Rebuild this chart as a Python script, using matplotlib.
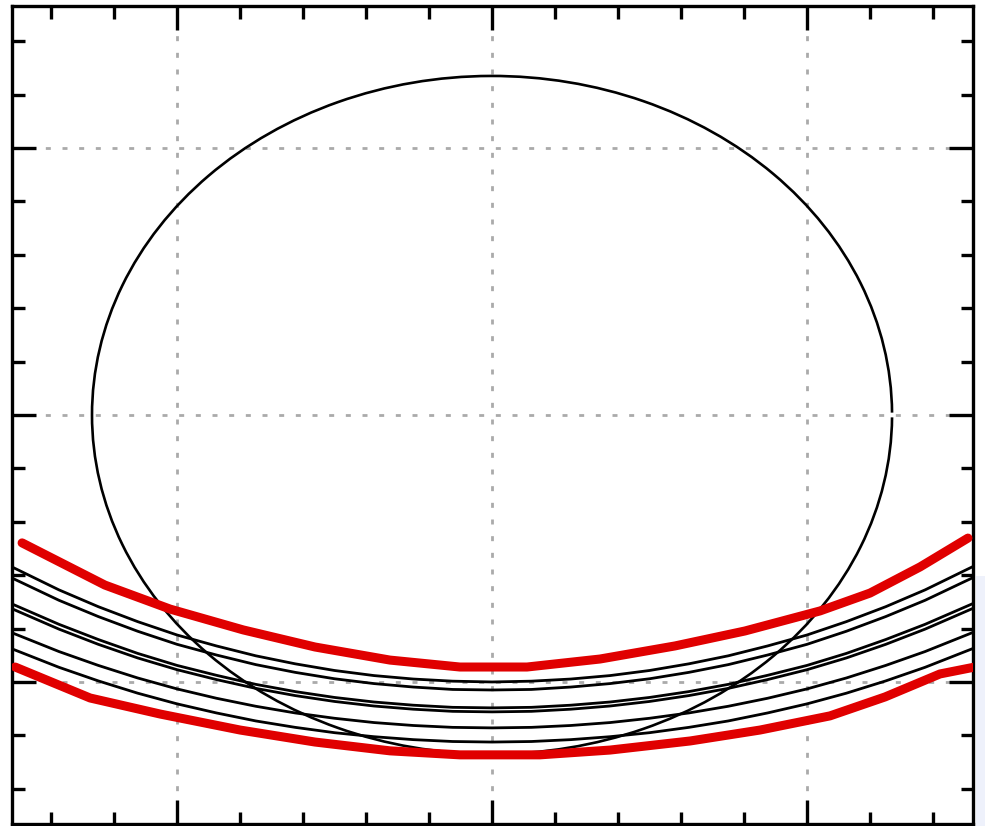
import numpy as np
import matplotlib
matplotlib.use("Agg")
import matplotlib.pyplot as plt
from matplotlib.patches import Arc, Rectangle
from matplotlib.ticker import MultipleLocator

# circle
circle_r = 1.27

# black arcs, sampled along x
x_arc = [-1.6, -1.5, -1.375, -1.25, -1.125, -1.0, -0.875, -0.75, -0.625, -0.5, -0.375, -0.25, -0.125, 0.0,
         0.125, 0.25, 0.375, 0.5, 0.625, 0.75, 0.875, 1.0, 1.125, 1.25, 1.375, 1.5, 1.6]
arc_1 = [-0.526, -0.583, -0.655, -0.718, -0.774, -0.824, -0.865, -0.902, -0.932, -0.957, -0.976, -0.989, -0.997, -1.000,
         -0.997, -0.989, -0.976, -0.957, -0.932, -0.902, -0.865, -0.824, -0.774, -0.718, -0.655, -0.583, -0.526]
arc_2 = [-0.569, -0.624, -0.694, -0.755, -0.810, -0.859, -0.899, -0.935, -0.964, -0.988, -1.006, -1.019, -1.028, -1.030,
         -1.028, -1.019, -1.006, -0.988, -0.964, -0.935, -0.899, -0.859, -0.810, -0.755, -0.694, -0.624, -0.569]
arc_3 = [-0.669, -0.720, -0.784, -0.841, -0.893, -0.938, -0.975, -1.009, -1.036, -1.058, -1.075, -1.087, -1.095, -1.097,
         -1.095, -1.087, -1.075, -1.058, -1.036, -1.009, -0.975, -0.938, -0.893, -0.841, -0.784, -0.720, -0.669]
arc_4 = [-0.687, -0.738, -0.802, -0.859, -0.910, -0.954, -0.991, -1.024, -1.051, -1.073, -1.090, -1.102, -1.110, -1.112,
         -1.110, -1.102, -1.090, -1.073, -1.051, -1.024, -0.991, -0.954, -0.910, -0.859, -0.802, -0.738, -0.687]
arc_5 = [-0.780, -0.827, -0.886, -0.938, -0.985, -1.026, -1.061, -1.091, -1.116, -1.136, -1.152, -1.163, -1.170, -1.172,
         -1.170, -1.163, -1.152, -1.136, -1.116, -1.091, -1.061, -1.026, -0.985, -0.938, -0.886, -0.827, -0.780]
arc_6 = [-0.841, -0.887, -0.945, -0.996, -1.042, -1.082, -1.116, -1.146, -1.170, -1.190, -1.205, -1.216, -1.223, -1.225,
         -1.223, -1.216, -1.205, -1.190, -1.170, -1.146, -1.116, -1.082, -1.042, -0.996, -0.945, -0.887, -0.841]
arcs = [arc_1, arc_2, arc_3, arc_4, arc_5, arc_6]

# red bounds
upper_x = [-1.492, -1.229, -1.022, -0.790, -0.562, -0.324, -0.102, 0.111, 0.343, 0.581, 0.803, 1.041, 1.200, 1.359, 1.511]
upper_y = [-0.479, -0.637, -0.727, -0.805, -0.869, -0.918, -0.944, -0.944, -0.914, -0.865, -0.809, -0.734, -0.667, -0.569, -0.461]
lower_x = [-1.514, -1.276, -1.054, -0.800, -0.562, -0.324, -0.102, 0.152, 0.375, 0.629, 0.851, 1.073, 1.248, 1.422, 1.533]
lower_y = [-0.944, -1.060, -1.120, -1.180, -1.225, -1.258, -1.273, -1.273, -1.255, -1.221, -1.180, -1.127, -1.056, -0.970, -0.944]

fig = plt.figure(figsize=(9.85, 8.26), dpi=100)
fig.patches.append(Rectangle((976 / 985, 0), 9 / 985, 250 / 826, transform=fig.transFigure,
                             facecolor="#eef1fb", edgecolor="none", zorder=0))
ax = fig.add_axes([12 / 985, 2 / 826, 961 / 985, 818 / 826])

ax.set_xlim(-1.524, 1.527)
ax.set_ylim(-1.532, 1.532)

ax.xaxis.set_major_locator(MultipleLocator(1.0))
ax.xaxis.set_minor_locator(MultipleLocator(0.2))
ax.yaxis.set_major_locator(MultipleLocator(1.0))
ax.yaxis.set_minor_locator(MultipleLocator(0.2))
ax.tick_params(which="both", direction="in", top=True, right=True,
               labelbottom=False, labelleft=False, width=2.4, color="black")
ax.tick_params(which="major", length=17)
ax.tick_params(which="minor", length=9)
for s in ax.spines.values():
    s.set_linewidth(2.4)

ax.grid(True, which="major", color="#aaaaaa", linewidth=2.0, linestyle=(0, (1.8, 4.2)))

ax.add_patch(Arc((0, 0), 2 * circle_r, 2 * circle_r, theta1=0.4, theta2=359.6,
                 color="black", linewidth=1.9, zorder=3))

for a in arcs:
    ax.plot(x_arc, a, color="black", linewidth=2.0, zorder=3)

ax.plot(upper_x, upper_y, color="#e00000", linewidth=6.5, solid_capstyle="round",
        solid_joinstyle="round", zorder=4)
ax.plot(lower_x, lower_y, color="#e00000", linewidth=6.5, solid_capstyle="round",
        solid_joinstyle="round", zorder=4)

fig.savefig("out.png", dpi=100)
